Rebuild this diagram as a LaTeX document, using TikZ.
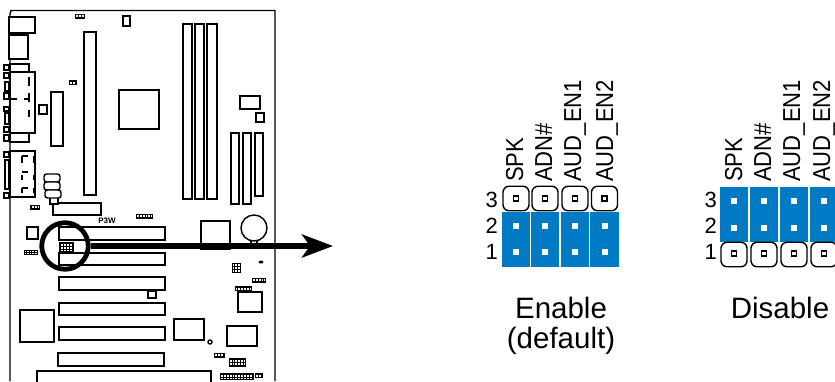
\documentclass[tikz,border=0pt]{standalone}
\usepackage{fontspec}
\setmainfont{Liberation Sans}
\usetikzlibrary{arrows.meta}
\definecolor{capblue}{RGB}{0,122,194}
\tikzset{
    board/.style={draw=black, line width=1.4pt, fill=white},
    header/.style={draw=black, fill=white, line width=0.9pt},
    headergrid/.style={draw=black, line width=0.9pt, xstep=2.9pt, ystep=2.9pt},
    capcell/.style={fill=capblue, draw=none, minimum width=28.5pt, minimum height=55pt, inner sep=0pt},
    openpin/.style={draw=black, rounded corners=6pt, line width=1.4pt, fill=white, minimum width=26pt, minimum height=24.5pt, inner sep=0pt},
    blackpin/.style={draw=black, line width=1.4pt, minimum size=5pt, inner sep=0pt},
    whitepin/.style={fill=white, minimum size=6pt, inner sep=0pt},
    pinlabel/.style={rotate=90, anchor=base west, inner sep=0pt, font=\fontsize{24.5}{24.5}\selectfont},
    rowlabel/.style={anchor=east, inner sep=0pt, font=\fontsize{22}{22}\selectfont},
    caption/.style={anchor=base, inner sep=0pt, font=\fontsize{29.5}{29.5}\selectfont}
}
\newcommand{\squeezed}[1]{\scalebox{0.9}[1]{#1}}
\begin{document}
\begin{tikzpicture}[x=1pt, y=-1pt]
        \useasboundingbox (0,0) rectangle (835,381);
        % board outline
        \draw[line width=1.4pt] (10,381)--(10,14)--(11,10.5)--(275,10.5)--(275,381);
        % boxes on the board
        \foreach \xa/\ya/\xb/\yb in {9/17/35/33, 9/35/28/59, 10/64/29/72, 10/72/35/133, 10/133/29/142,
            4/65/9/70, 4/73/9/78, 5/82/9/91, 4/93/9/99, 4/107/9/111, 5/113/9/124, 4/127/9/132, 4/135/9/141,
            4/152/9/157, 5/160/9/189, 4/193/9/198,
            123/16/130/26, 84/32/96/195, 39/105/47/114, 51/92/63/146, 119/90/159/129,
            183/24/192/199, 195/24/204/199, 207/24/217/199,
            240/96/260/109, 256/113/264/122, 231/133/239/204, 243/133/251/204, 255/133/263/196,
            10/151/35/197, 53/203/101/215, 27/227/38/239,
            59/227/165/240, 59/253/165/265, 59/277/165/290, 59/303/165/315, 59/327/165/340, 58/353/164/366,
            37/371/211/390, 20/310/54/342, 201/221/230/249, 251/240/257/247, 148/291/156/298,
            238/292/262/312, 174/319/204/340, 227/326/257/346}{
            \draw[board] (\xa,\ya) rectangle (\xb,\yb);
        }
        % marks in the back panel
        \foreach \xa/\ya/\xb/\yb in {29/77/29/86, 29/93/29/102, 29/110/29/117, 10/99/17/99, 24/99/30/99,
            22/156/28/156, 22/156/22/163, 34/156/34/163, 22/172/28/172, 22/175/22/180, 34/175/34/180, 22/188/28/188, 22/188/22/193, 34/188/34/193}{
            \draw[line width=1.4pt] (\xa,\ya)--(\xb,\yb);
        }
        % small jumpers
        \draw[board] (50,197) rectangle (58,204);
        \draw[board, rounded corners=2.5pt] (44,174) rectangle (60,182);
        \draw[board, rounded corners=2.5pt] (44,182) rectangle (60,190);
        \draw[board, rounded corners=2.5pt] (45,190) rectangle (61,198);
        % pin strips
        \foreach \xa/\ya/\xb/\yb in {75/14/84/18, 69/80/76/84, 30/205/39/209, 24/250/37/254, 136/214/152/218,
            232/263/240/272, 252/278/265/282, 235/286/251/290, 214/353/224/357, 229/358/245/366,
            220/373/253/379, 255/373/262/377, 59/242/73/251}{
            \draw[header] (\xa,\ya) rectangle (\xb,\yb);
            \draw[headergrid] (\xa,\ya) grid (\xb,\yb);
        }
        \fill (261,262) ellipse (2.5 and 1.5);
        \draw[line width=1.4pt] (210,342) circle (2);
        \draw[board] (254,228) circle (13);
        \node[font=\bfseries\fontsize{8}{8}\selectfont, inner sep=0pt] (p3w) at (107,221) {P3W};
        % lens and pointer
        \node[circle, draw=black, line width=4.8pt, minimum size=46.5pt, inner sep=0pt] (lens) at (65,246) {};
        \coordinate (pointertip) at (333,246);
        \draw[line width=5.5pt, -{Stealth[length=31pt, width=23pt, inset=8pt]}] (lens.east)--(pointertip);
        % enabled header
        \foreach \Col/\Name/\Base in {516/SPK/523, 545/ADN\#/552, 575/AUD\_EN1/581, 604.5/AUD\_EN2/613}{
            \node[capcell] (capa\Col) at (\Col,239.5) {};
            \node[openpin] (opena\Col) at (\Col,198.5) {};
            \node[blackpin] (pina\Col) at (\Col,198.5) {};
            \node[whitepin] (pinb\Col) at (\Col,226) {};
            \node[whitepin] (pinc\Col) at (\Col,252) {};
            \node[pinlabel] (laba\Col) at (\Base,182) {\squeezed{\Name}};
        }
        % disabled header
        \foreach \Col/\Name/\Base in {734/SPK/742, 764/ADN\#/771, 794/AUD\_EN1/800, 824/AUD\_EN2/830}{
            \node[capcell] (capd\Col) at (\Col,214.5) {};
            \node[openpin] (opend\Col) at (\Col,254.5) {};
            \node[blackpin] (pind\Col) at (\Col,253.5) {};
            \node[whitepin] (pine\Col) at (\Col,201) {};
            \node[whitepin] (pinf\Col) at (\Col,228) {};
            \node[pinlabel] (labd\Col) at (\Base,182) {\squeezed{\Name}};
        }
        \foreach \Num/\Row in {3/200, 2/226, 1/252}{
            \node[rowlabel] (rowa\Num) at (498,\Row) {\Num};
            \node[rowlabel] (rowd\Num) at (717,\Row) {\Num};
        }
        \node[caption] (enable) at (561,318) {Enable};
        \node[caption] (default) at (561,348) {(default)};
        \node[caption] (disable) at (780,318) {Disable};
\end{tikzpicture}
\end{document}
